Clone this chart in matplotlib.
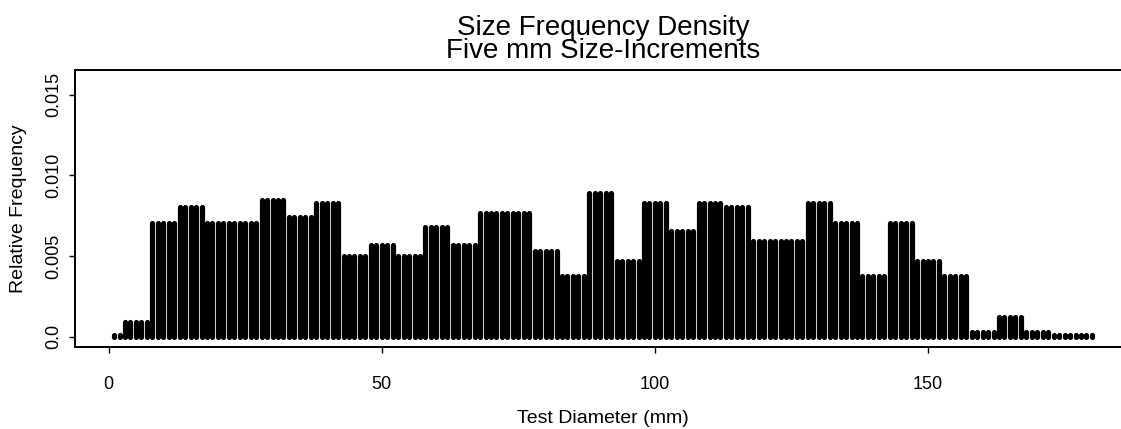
import numpy as np
import matplotlib
matplotlib.use("Agg")
import matplotlib.pyplot as plt

plt.rcParams['font.family'] = ['Liberation Sans', 'DejaVu Sans']

# test diameters, one spike per mm
diameter_mm = np.arange(1, 181)

# relative frequency of each five mm size-increment (centred on 0, 5, ..., 180)
bin_centres = np.arange(0, 185, 5)
bin_freq = [0.0001, 0.00094, 0.00703, 0.00802, 0.00703, 0.00703, 0.0085,
            0.0074, 0.00827, 0.00503, 0.0057, 0.00503, 0.00679, 0.0057,
            0.00765, 0.00765, 0.0053, 0.00379, 0.00889, 0.00468, 0.00827,
            0.00654, 0.00827, 0.00802, 0.00592, 0.00592, 0.00827, 0.00703,
            0.00379, 0.00703, 0.00468, 0.00379, 0.00032, 0.00121, 0.00032,
            0.0001, 0.0001]

x_ticks = [0, 50, 100, 150]
y_ticks = [0.0, 0.005, 0.010, 0.015]
y_ticklabels = ['0.0', '0.005', '0.010', '0.015']


def main():
    # each mm gets the frequency of the increment it falls in
    idx = (diameter_mm + 2) // 5
    freq = np.asarray(bin_freq)[idx]

    fig = plt.figure(figsize=(11.21, 4.29), dpi=100)
    ax = fig.add_axes([75/1121, 1 - 347/429, 1056/1121, 277/429])

    spikes = ax.vlines(diameter_mm, 0, freq, colors='black', linewidth=3.75)
    spikes.set_capstyle('round')

    ax.set_xlim(-6.16, 187.16)
    ax.set_ylim(-0.000636, 0.016525)

    ax.set_xticks(x_ticks)
    ax.set_yticks(y_ticks)
    ax.set_yticklabels(y_ticklabels, rotation=90, va='center')
    ax.tick_params(axis='both', direction='out', length=4, width=1.0,
                   labelsize=13)
    ax.tick_params(axis='x', pad=17)
    ax.tick_params(axis='y', pad=5)

    for side in ['left', 'bottom', 'top']:
        ax.spines[side].set_linewidth(1.4)
    ax.spines['right'].set_visible(False)

    ax.set_xlabel('Test Diameter (mm)', fontsize=14, labelpad=12)
    ax.set_ylabel('Relative Frequency', fontsize=14, labelpad=13)
    ax.set_title('Size Frequency Density\nFive mm Size-Increments',
                 fontsize=20, linespacing=0.82, pad=9)

    fig.savefig('out.png', dpi=100)
    plt.close(fig)


if __name__ == "__main__":
    main()
